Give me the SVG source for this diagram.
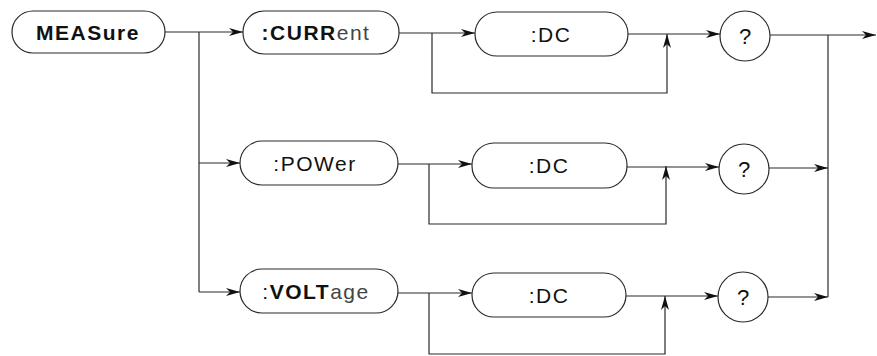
<svg xmlns="http://www.w3.org/2000/svg" width="877" height="356" viewBox="0 0 877 356">
<style>
.box{fill:#fff;stroke:#2a2a2a;stroke-width:1.2}
.ln{fill:none;stroke:#2a2a2a;stroke-width:1.2}
.t{font-family:"Liberation Sans",Arial,sans-serif;font-size:21px;letter-spacing:1.5px;fill:#111;text-anchor:middle;dominant-baseline:central}
.b{font-weight:bold}
.l{font-weight:normal;fill:#444}
.q{font-size:22px;letter-spacing:0}
</style>
<defs>
<marker id="ah" viewBox="0 0 14 8" refX="14" refY="4" markerWidth="14" markerHeight="8" markerUnits="userSpaceOnUse" orient="auto">
<path d="M0,0 L14,4 L0,8 L4,4 Z" fill="#111"/>
</marker>
</defs>
<g id="connectors">
<path class="ln" d="M165,32 H243" marker-end="url(#ah)"/>
<path class="ln" d="M199,32 V292"/>
<path class="ln" d="M199,163 H240" marker-end="url(#ah)"/>
<path class="ln" d="M199,292 H240" marker-end="url(#ah)"/>
<path class="ln" d="M399,33 H475" marker-end="url(#ah)"/>
<path class="ln" d="M432,33 V93 H667 V34" marker-end="url(#ah)"/>
<path class="ln" d="M628,34 H720" marker-end="url(#ah)"/>
<path class="ln" d="M770,35 H876" marker-end="url(#ah)"/>
<path class="ln" d="M828,35 V297"/>
<path class="ln" d="M398,164 H472" marker-end="url(#ah)"/>
<path class="ln" d="M429,164 V224 H666 V166" marker-end="url(#ah)"/>
<path class="ln" d="M627,167 H719" marker-end="url(#ah)"/>
<path class="ln" d="M769,168 H828" marker-end="url(#ah)"/>
<path class="ln" d="M398,293 H472" marker-end="url(#ah)"/>
<path class="ln" d="M429,293 V354 H665 V296" marker-end="url(#ah)"/>
<path class="ln" d="M626,296 H718" marker-end="url(#ah)"/>
<path class="ln" d="M768,297 H828" marker-end="url(#ah)"/>
</g>
<g id="measure"><rect class="box" x="12" y="11" width="153" height="42" rx="21"/><text class="t b" x="88" y="32">MEASure</text></g>
<g id="current"><rect class="box" x="243" y="11" width="156" height="43" rx="21"/><text class="t" x="316" y="32"><tspan class="b">:CURR</tspan><tspan class="l">ent</tspan></text></g>
<g id="dc1"><rect class="box" x="475" y="12" width="153" height="44" rx="22"/><text class="t" x="551" y="34">:DC</text></g>
<g id="q1"><circle class="box" cx="745" cy="36" r="25"/><text class="t q" x="745" y="36">?</text></g>
<g id="power"><rect class="box" x="240" y="141" width="158" height="44" rx="22"/><text class="t" x="315" y="163">:POWer</text></g>
<g id="dc2"><rect class="box" x="472" y="143" width="155" height="45" rx="22"/><text class="t" x="549" y="165">:DC</text></g>
<g id="q2"><circle class="box" cx="744" cy="169" r="25"/><text class="t q" x="744" y="169">?</text></g>
<g id="voltage"><rect class="box" x="240" y="269" width="158" height="44" rx="22"/><text class="t" x="316" y="291"><tspan>:</tspan><tspan class="b">VOLT</tspan><tspan class="l">age</tspan></text></g>
<g id="dc3"><rect class="box" x="472" y="273" width="154" height="44" rx="22"/><text class="t" x="549" y="295">:DC</text></g>
<g id="q3"><circle class="box" cx="743" cy="297" r="25"/><text class="t q" x="743" y="297">?</text></g>
</svg>
